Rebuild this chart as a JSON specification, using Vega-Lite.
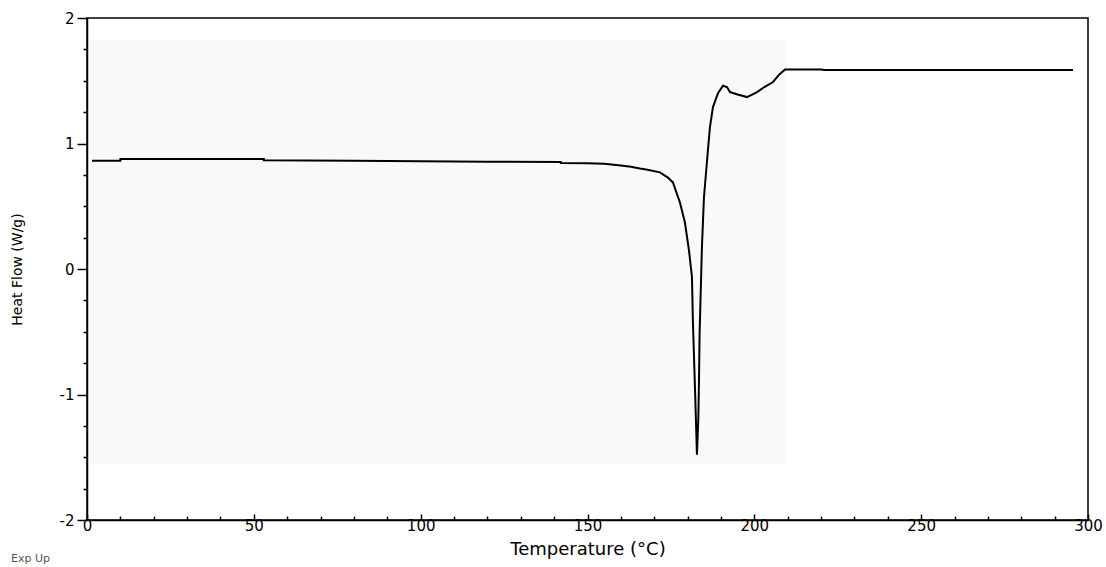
{
  "$schema": "https://vega.github.io/schema/vega-lite/v6.json",
  "width": 1001,
  "height": 502,
  "autosize": {"type": "none"},
  "padding": {"left": 87, "top": 18, "right": 18, "bottom": 47},
  "background": "white",
  "config": {
    "view": {"stroke": "black", "strokeWidth": 1.5},
    "font": "DejaVu Sans",
    "axis": {"domainColor": "black", "domainWidth": 1.5, "tickColor": "black", "labelColor": "black", "titleColor": "black", "grid": false, "labelFont": "DejaVu Sans", "titleFont": "DejaVu Sans", "titleFontWeight": "normal", "labelFlush": false, "labelOverlap": false}
  },
  "title": {"text": "Exp Up", "orient": "bottom", "anchor": "start", "frame": "group", "dx": -76, "offset": -5, "fontSize": 11, "fontWeight": "normal", "color": "#555", "font": "DejaVu Sans"},
  "datasets": {
    "curve": [
      {"T": 1.5, "HF": 0.863},
      {"T": 10, "HF": 0.863},
      {"T": 10, "HF": 0.876},
      {"T": 53, "HF": 0.876},
      {"T": 53, "HF": 0.866},
      {"T": 80, "HF": 0.862},
      {"T": 100, "HF": 0.858},
      {"T": 120, "HF": 0.855},
      {"T": 142, "HF": 0.852},
      {"T": 142, "HF": 0.845},
      {"T": 150, "HF": 0.843},
      {"T": 155, "HF": 0.838},
      {"T": 160, "HF": 0.825},
      {"T": 163, "HF": 0.815},
      {"T": 165.7, "HF": 0.8},
      {"T": 168, "HF": 0.79},
      {"T": 171.7, "HF": 0.77},
      {"T": 174, "HF": 0.73},
      {"T": 175.6, "HF": 0.69},
      {"T": 177.7, "HF": 0.53},
      {"T": 179.2, "HF": 0.37},
      {"T": 180.4, "HF": 0.15},
      {"T": 181.3, "HF": -0.06},
      {"T": 181.6, "HF": -0.43},
      {"T": 182.2, "HF": -0.94},
      {"T": 182.8, "HF": -1.48},
      {"T": 183.2, "HF": -1.2},
      {"T": 183.4, "HF": -0.91},
      {"T": 183.6, "HF": -0.51},
      {"T": 184.3, "HF": 0.18},
      {"T": 184.9, "HF": 0.57},
      {"T": 186.1, "HF": 0.95},
      {"T": 186.7, "HF": 1.13},
      {"T": 187.6, "HF": 1.29},
      {"T": 189.1, "HF": 1.4},
      {"T": 190.6, "HF": 1.46},
      {"T": 191.8, "HF": 1.45},
      {"T": 192.7, "HF": 1.41},
      {"T": 195, "HF": 1.39},
      {"T": 197.8, "HF": 1.37},
      {"T": 200.8, "HF": 1.41},
      {"T": 203, "HF": 1.45},
      {"T": 205.6, "HF": 1.49},
      {"T": 207.5, "HF": 1.55},
      {"T": 209.2, "HF": 1.59},
      {"T": 220, "HF": 1.59},
      {"T": 221, "HF": 1.585},
      {"T": 295.5, "HF": 1.585}
    ],
    "shade": [{"T": 1, "T2": 209.8, "HF": -1.55, "HF2": 1.82}]
  },
  "layer": [
    {
      "data": {"name": "shade"},
      "mark": {"type": "rect", "color": "#f9f9f9"},
      "encoding": {
        "x": {
          "field": "T", "type": "quantitative",
          "scale": {"domain": [0, 300], "nice": false, "zero": false},
          "axis": {
            "title": "Temperature (°C)",
            "titleFontSize": 18,
            "titlePadding": 5,
            "tickCount": 40,
            "values": [0,10,20,30,40,50,60,70,80,90,100,110,120,130,140,150,160,170,180,190,200,210,220,230,240,250,260,270,280,290,300],
            "labelExpr": "datum.value % 50 === 0 ? '' + datum.value : ''",
            "labelOverlap": false,
            "labelFlush": false,
            "labelFontSize": 15,
            "labelPadding": 4,
            "tickSize": {"condition": {"test": "datum.value % 50 === 0", "value": -6}, "value": -4},
            "tickWidth": 1.5
          }
        },
        "x2": {"field": "T2"},
        "y": {
          "field": "HF", "type": "quantitative",
          "scale": {"domain": [-2, 2], "nice": false, "zero": false},
          "axis": {
            "title": "Heat Flow (W/g)",
            "titleFontSize": 14,
            "titlePadding": 35,
            "tickCount": 40,
            "values": [-2,-1.75,-1.5,-1.25,-1,-0.75,-0.5,-0.25,0,0.25,0.5,0.75,1,1.25,1.5,1.75,2],
            "labelExpr": "datum.value % 1 === 0 ? '' + datum.value : ''",
            "labelOverlap": false,
            "labelFlush": false,
            "labelFontSize": 15,
            "labelPadding": 3,
            "tickSize": {"condition": {"test": "datum.value % 1 === 0", "value": 10}, "value": 4},
            "tickWidth": 1.5
          }
        },
        "y2": {"field": "HF2"}
      }
    },
    {
      "data": {"name": "curve"},
      "mark": {"type": "line", "color": "black", "strokeWidth": 2},
      "encoding": {
        "x": {"field": "T", "type": "quantitative"},
        "y": {"field": "HF", "type": "quantitative"}
      }
    }
  ]
}
